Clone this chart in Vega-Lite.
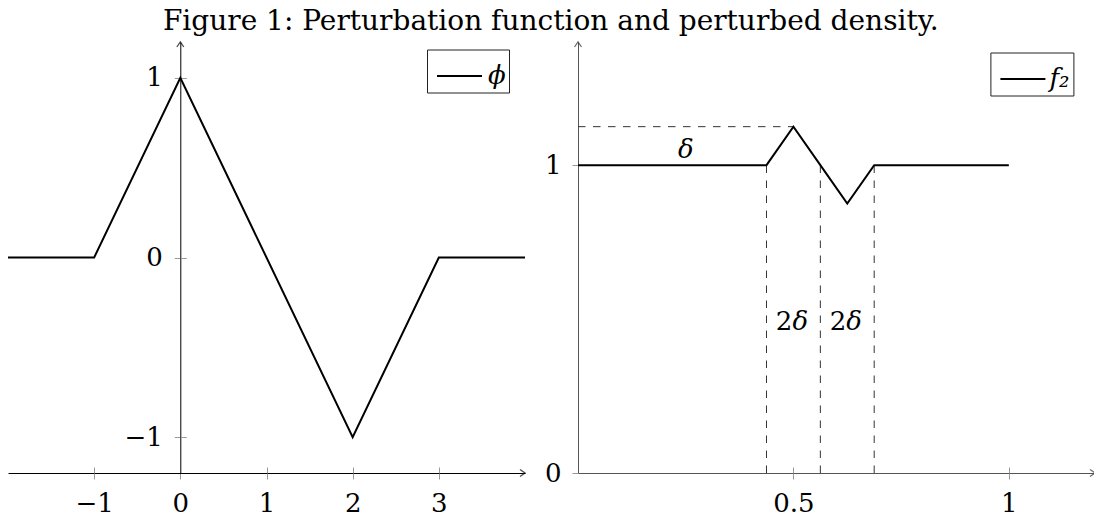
{
  "$schema": "https://vega.github.io/schema/vega-lite/v6.json",
  "autosize": {"type": "pad"},
  "padding": {"left": 4, "top": 8, "right": 0, "bottom": 0},
  "background": "white",
  "title": {"text": "Figure 1: Perturbation function and perturbed density.", "font": "DejaVu Serif", "fontSize": 28, "fontWeight": "normal", "anchor": "middle", "color": "black", "offset": 3},
  "config": {
    "view": {"stroke": null},
    "axis": {"grid": false, "title": null, "labelFont": "DejaVu Serif", "labelFontSize": 26, "labelColor": "black", "tickColor": "#999999", "tickWidth": 1, "tickSize": 6, "domainWidth": 1, "labelFlush": false, "labelOverlap": false, "format": "~g"}
  },
  "datasets": {
    "phi": [
      {"x": -2, "y": 0, "series": "ϕ"},
      {"x": -1, "y": 0, "series": "ϕ"},
      {"x": 0, "y": 1, "series": "ϕ"},
      {"x": 2, "y": -1, "series": "ϕ"},
      {"x": 3, "y": 0, "series": "ϕ"},
      {"x": 4, "y": 0, "series": "ϕ"}
    ],
    "phiArrows": [
      {"x": 4, "y": -1.2, "dir": "right"},
      {"x": 0, "y": 1.2, "dir": "up"}
    ],
    "f2": [
      {"x": 0, "y": 1, "series": "f₂"},
      {"x": 0.4375, "y": 1, "series": "f₂"},
      {"x": 0.5, "y": 1.125, "series": "f₂"},
      {"x": 0.5625, "y": 1, "series": "f₂"},
      {"x": 0.625, "y": 0.875, "series": "f₂"},
      {"x": 0.6875, "y": 1, "series": "f₂"},
      {"x": 1, "y": 1, "series": "f₂"}
    ],
    "f2Arrows": [
      {"x": 1.2, "y": 0, "dir": "right"},
      {"x": 0, "y": 1.4, "dir": "up"}
    ],
    "guides": [
      {"x": 0, "x2": 0.5, "y": 1.125, "y2": 1.125},
      {"x": 0.4375, "x2": 0.4375, "y": 0, "y2": 1},
      {"x": 0.5625, "x2": 0.5625, "y": 0, "y2": 1},
      {"x": 0.6875, "x2": 0.6875, "y": 0, "y2": 1}
    ],
    "deltaLabel": [
      {"x": 0.25, "y": 1.05, "sym": "δ"}
    ],
    "twoDelta": [
      {"x": 0.5, "y": 0.49, "num": "2", "sym": "δ"},
      {"x": 0.625, "y": 0.49, "num": "2", "sym": "δ"}
    ]
  },
  "hconcat": [
    {
      "width": 517,
      "height": 431,
      "resolve": {"axis": {"x": "independent", "y": "independent"}},
      "layer": [
        {
          "data": {"name": "phi"},
          "mark": {"type": "line", "strokeWidth": 2},
          "encoding": {
            "x": {"field": "x", "type": "quantitative", "scale": {"domain": [-2, 4], "nice": false, "zero": false},
              "axis": {"orient": "bottom", "values": [-1, 0, 1, 2, 3], "labelPadding": 11, "domainColor": "black"}},
            "y": {"field": "y", "type": "quantitative", "scale": {"domain": [-1.2, 1.2], "nice": false, "zero": false},
              "axis": {"orient": "left", "offset": -172.3, "values": [-1, 0, 1], "labelPadding": 12, "domainColor": "black"}},
            "color": {"field": "series", "type": "nominal", "scale": {"range": ["black"]},
              "legend": {"title": null, "orient": "none", "legendX": 419, "legendY": 7.5, "strokeColor": "#222222", "fillColor": "white", "padding": 3, "symbolOffset": 6, "symbolType": "stroke", "symbolSize": 2025, "symbolStrokeWidth": 2, "labelFont": "DejaVu Serif", "labelFontSize": 26, "labelFontStyle": "italic", "labelColor": "black", "labelOffset": 5, "labelExpr": "datum.label + '\u2002'"}}
          }
        },
        {
          "data": {"name": "phiArrows"},
          "mark": {"type": "point", "filled": false, "strokeWidth": 1.3, "color": "black", "size": 100},
          "encoding": {
            "x": {"field": "x", "type": "quantitative", "scale": {"domain": [-2, 4], "nice": false, "zero": false},
              "axis": {"orient": "top", "offset": -431, "values": [-1, 1, 2, 3], "labels": false, "domain": false}},
            "y": {"field": "y", "type": "quantitative", "scale": {"domain": [-1.2, 1.2], "nice": false, "zero": false},
              "axis": {"orient": "right", "offset": -344.7, "values": [-1, 0, 1], "labels": false, "domain": false}},
            "shape": {"field": "dir", "type": "nominal", "scale": {"domain": ["right", "up"], "range": ["M-1,-0.7L0,0L-1,0.7", "M-0.7,1L0,0L0.7,1"]}, "legend": null}
          }
        }
      ]
    },
    {
      "width": 517,
      "height": 431,
      "resolve": {"axis": {"x": "independent", "y": "independent"}},
      "layer": [
        {
          "data": {"name": "guides"},
          "mark": {"type": "rule", "strokeDash": [7.5, 7.5], "color": "#333333", "strokeWidth": 1},
          "encoding": {
            "x": {"field": "x", "type": "quantitative", "scale": {"domain": [0, 1.2], "nice": false, "zero": false},
              "axis": {"orient": "bottom", "values": [0.5, 1], "labelPadding": 11, "domainColor": "#555555"}},
            "x2": {"field": "x2"},
            "y": {"field": "y", "type": "quantitative", "scale": {"domain": [0, 1.4], "nice": false, "zero": false},
              "axis": {"orient": "left", "values": [0, 1], "labelPadding": 11, "domainColor": "#555555"}},
            "y2": {"field": "y2"}
          }
        },
        {
          "data": {"name": "f2"},
          "mark": {"type": "line", "strokeWidth": 2},
          "encoding": {
            "x": {"field": "x", "type": "quantitative", "scale": {"domain": [0, 1.2], "nice": false, "zero": false},
              "axis": {"orient": "top", "offset": -431, "values": [0.5, 1], "labels": false, "domain": false}},
            "y": {"field": "y", "type": "quantitative", "scale": {"domain": [0, 1.4], "nice": false, "zero": false},
              "axis": {"orient": "right", "offset": -517, "values": [1], "labels": false, "domain": false}},
            "color": {"field": "series", "type": "nominal", "scale": {"range": ["black"]},
              "legend": {"title": null, "orient": "none", "legendX": 412.4, "legendY": 10.5, "strokeColor": "#222222", "fillColor": "white", "padding": 3, "symbolOffset": 6, "symbolType": "stroke", "symbolSize": 2025, "symbolStrokeWidth": 2, "labelFont": "DejaVu Serif", "labelFontSize": 26, "labelFontStyle": "italic", "labelColor": "black", "labelOffset": 3, "labelExpr": "datum.label + '\u2002'"}}
          }
        },
        {
          "data": {"name": "f2Arrows"},
          "mark": {"type": "point", "filled": false, "strokeWidth": 1.3, "color": "#333333", "size": 100},
          "encoding": {
            "x": {"field": "x", "type": "quantitative", "axis": null},
            "y": {"field": "y", "type": "quantitative", "axis": null},
            "shape": {"field": "dir", "type": "nominal", "scale": {"domain": ["right", "up"], "range": ["M-1,-0.7L0,0L-1,0.7", "M-0.7,1L0,0L0.7,1"]}, "legend": null}
          }
        },
        {
          "data": {"name": "deltaLabel"},
          "mark": {"type": "text", "font": "DejaVu Serif", "fontSize": 26, "fontStyle": "italic", "color": "black", "baseline": "middle", "align": "center"},
          "encoding": {
            "x": {"field": "x", "type": "quantitative", "axis": null},
            "y": {"field": "y", "type": "quantitative", "axis": null},
            "text": {"field": "sym"}
          }
        },
        {
          "data": {"name": "twoDelta"},
          "mark": {"type": "text", "font": "DejaVu Serif", "fontSize": 26, "color": "black", "baseline": "middle", "align": "right", "dx": -1},
          "encoding": {
            "x": {"field": "x", "type": "quantitative", "axis": null},
            "y": {"field": "y", "type": "quantitative", "axis": null},
            "text": {"field": "num"}
          }
        },
        {
          "data": {"name": "twoDelta"},
          "mark": {"type": "text", "font": "DejaVu Serif", "fontSize": 26, "fontStyle": "italic", "color": "black", "baseline": "middle", "align": "left", "dx": -1},
          "encoding": {
            "x": {"field": "x", "type": "quantitative", "axis": null},
            "y": {"field": "y", "type": "quantitative", "axis": null},
            "text": {"field": "sym"}
          }
        }
      ]
    }
  ],
  "spacing": 53,
  "bounds": "flush",
  "resolve": {"scale": {"color": "independent"}, "legend": {"color": "independent"}}
}
